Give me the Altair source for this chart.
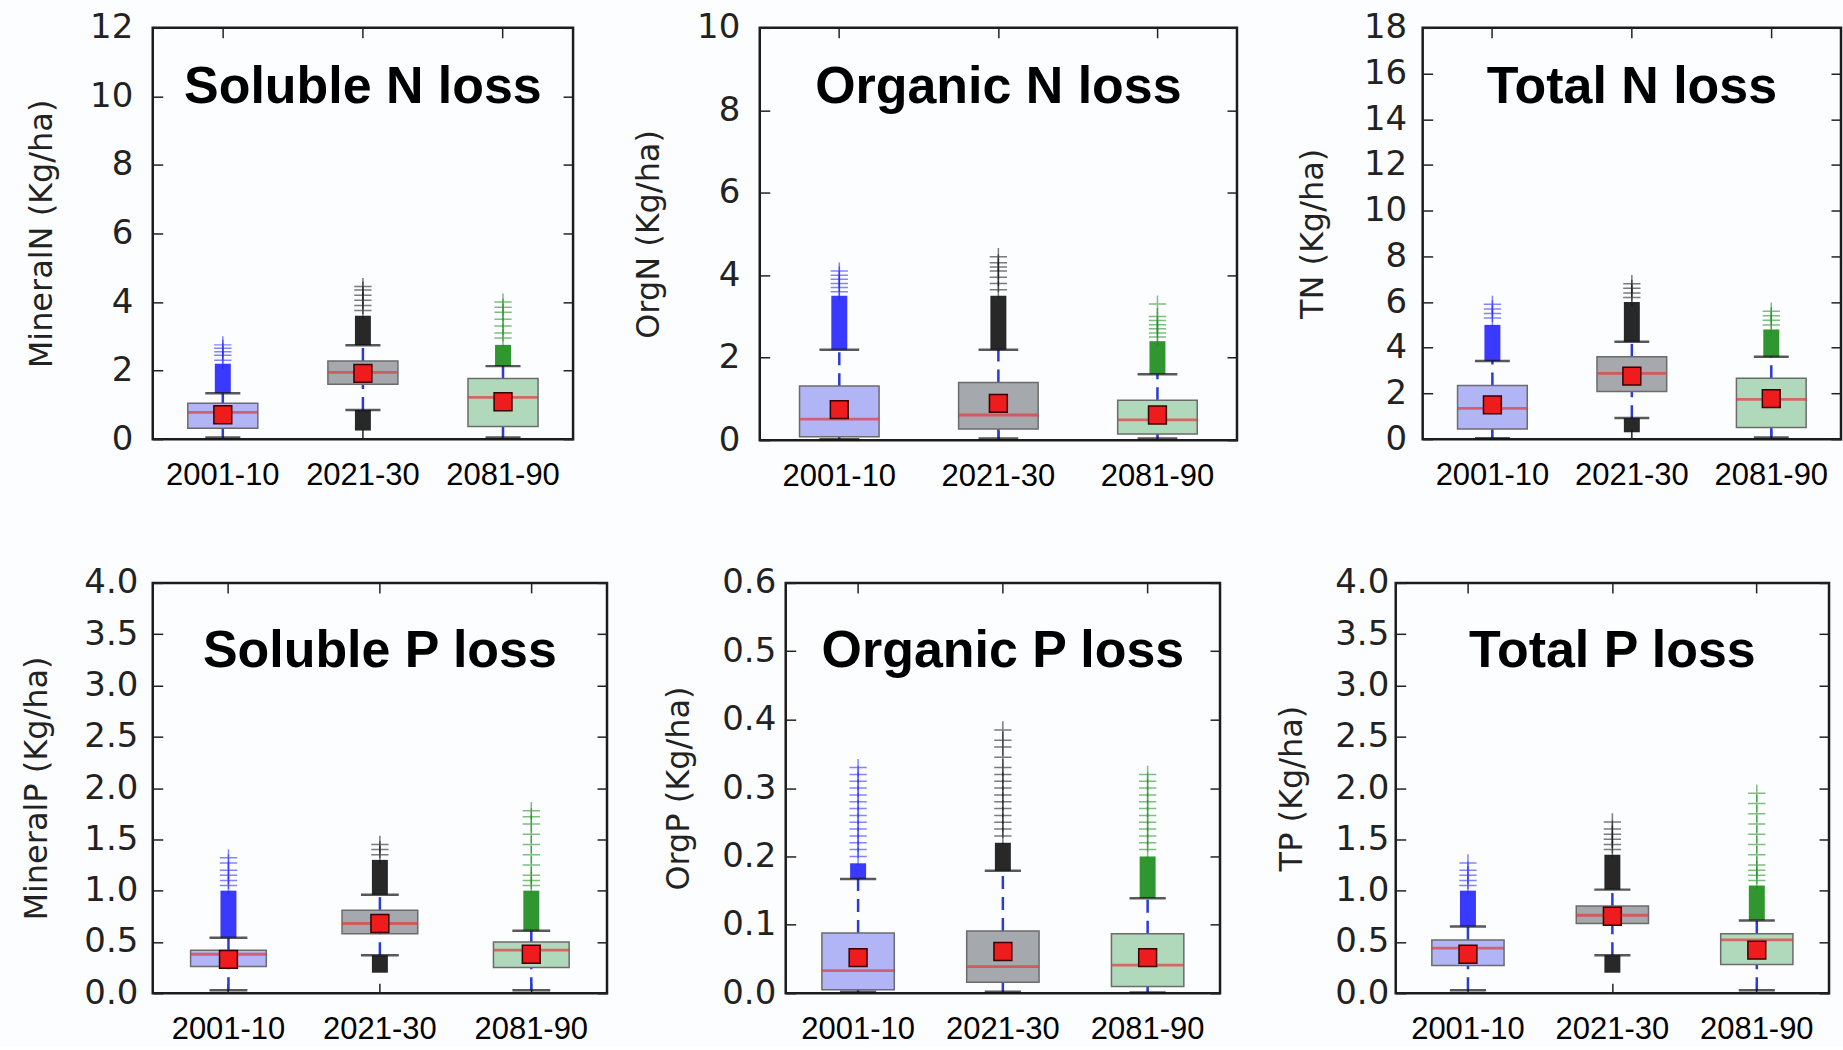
import altair as alt
import pandas as pd

PERIODS = ["2001-10", "2021-30", "2081-90"]
BOX_FILL = ["#b1b5f5", "#a5a8ad", "#b0d9bb"]
FLIER_COLOR = ["#2323ff", "#111111", "#1a8c1a"]

# Box statistics per period: whisker ends, quartiles, median, mean,
# the extent of the densely packed outliers and the scattered outliers above them.
soluble_n = dict(
    low=[0.05, 0.85, 0.05],
    q1=[0.32, 1.60, 0.37],
    median=[0.78, 1.95, 1.22],
    q3=[1.05, 2.28, 1.77],
    high=[1.34, 2.74, 2.13],
    mean=[0.71, 1.92, 1.09],
    flier_top=[2.20, 3.60, 2.75],
    flier_bottom=[None, 0.25, None],
    sparse=[[2.30, 2.45, 2.55, 2.65, 2.75],
            [3.75, 3.90, 4.05, 4.20, 4.35, 4.45],
            [2.95, 3.10, 3.30, 3.50, 3.70, 3.85, 4.00]],
)
organic_n = dict(
    low=[0.02, 0.04, 0.04],
    q1=[0.08, 0.27, 0.15],
    median=[0.51, 0.61, 0.49],
    q3=[1.31, 1.40, 0.97],
    high=[2.19, 2.19, 1.60],
    mean=[0.74, 0.89, 0.61],
    flier_top=[3.50, 3.50, 2.40],
    flier_bottom=[None, None, None],
    sparse=[[3.60, 3.70, 3.80, 3.90, 4.00, 4.10],
            [3.65, 3.80, 3.95, 4.10, 4.20, 4.30, 4.45],
            [2.50, 2.60, 2.70, 2.80, 2.90, 3.00, 3.30]],
)
total_n = dict(
    low=[0.04, 0.92, 0.07],
    q1=[0.44, 2.08, 0.51],
    median=[1.35, 2.88, 1.74],
    q3=[2.35, 3.60, 2.66],
    high=[3.42, 4.26, 3.60],
    mean=[1.50, 2.76, 1.77],
    flier_top=[5.00, 6.00, 4.80],
    flier_bottom=[None, 0.30, None],
    sparse=[[5.30, 5.50, 5.70, 5.90],
            [6.20, 6.40, 6.60, 6.80],
            [5.00, 5.20, 5.40, 5.60]],
)
soluble_p = dict(
    low=[0.03, 0.37, 0.03],
    q1=[0.26, 0.58, 0.25],
    median=[0.38, 0.68, 0.42],
    q3=[0.42, 0.81, 0.50],
    high=[0.54, 0.96, 0.61],
    mean=[0.33, 0.68, 0.38],
    flier_top=[1.00, 1.30, 1.00],
    flier_bottom=[None, 0.20, None],
    sparse=[[1.05, 1.10, 1.15, 1.20, 1.27, 1.32],
            [1.35, 1.40, 1.45],
            [1.05, 1.10, 1.15, 1.25, 1.35, 1.45, 1.55, 1.65, 1.72, 1.78]],
)
organic_p = dict(
    low=[0.002, 0.002, 0.001],
    q1=[0.005, 0.016, 0.010],
    median=[0.033, 0.039, 0.041],
    q3=[0.088, 0.091, 0.087],
    high=[0.167, 0.179, 0.139],
    mean=[0.052, 0.061, 0.052],
    flier_top=[0.190, 0.220, 0.200],
    flier_bottom=[None, None, None],
    sparse=[[0.20, 0.21, 0.22, 0.23, 0.24, 0.25, 0.26, 0.27, 0.28, 0.29, 0.30, 0.31, 0.32, 0.33],
            [0.23, 0.24, 0.25, 0.26, 0.27, 0.28, 0.29, 0.30, 0.31, 0.32, 0.33, 0.345, 0.36, 0.37, 0.385],
            [0.21, 0.22, 0.23, 0.24, 0.25, 0.26, 0.27, 0.28, 0.29, 0.30, 0.31, 0.32]],
)
total_p = dict(
    low=[0.03, 0.37, 0.03],
    q1=[0.27, 0.68, 0.28],
    median=[0.44, 0.76, 0.52],
    q3=[0.52, 0.85, 0.58],
    high=[0.65, 1.01, 0.71],
    mean=[0.38, 0.75, 0.42],
    flier_top=[1.00, 1.35, 1.05],
    flier_bottom=[None, 0.20, None],
    sparse=[[1.05, 1.10, 1.15, 1.20, 1.27],
            [1.40, 1.45, 1.50, 1.55, 1.60, 1.67],
            [1.10, 1.15, 1.20, 1.25, 1.35, 1.45, 1.55, 1.65, 1.75, 1.85, 1.95]],
)

TICKS_SOLUBLE_N = [0, 2, 4, 6, 8, 10, 12]
TICKS_ORGANIC_N = [0, 2, 4, 6, 8, 10]
TICKS_TOTAL_N = [0, 2, 4, 6, 8, 10, 12, 14, 16, 18]
TICKS_SOLUBLE_P = [0.0, 0.5, 1.0, 1.5, 2.0, 2.5, 3.0, 3.5, 4.0]
TICKS_ORGANIC_P = [0.0, 0.1, 0.2, 0.3, 0.4, 0.5, 0.6]
TICKS_TOTAL_P = [0.0, 0.5, 1.0, 1.5, 2.0, 2.5, 3.0, 3.5, 4.0]

PLUS = "M-1,0L1,0M0,-1L0,1"
WHISKER = "#2b3bd6"
INK = "#222222"


def panel(d, ticks, fmt, title, ylabel, width, height, label_pad, title_pad, title_dy):
    box_px = width / 6
    cap_px = width / 12

    summary = pd.DataFrame({
        "period": PERIODS,
        "low": d["low"], "q1": d["q1"], "median": d["median"], "q3": d["q3"],
        "high": d["high"], "mean": d["mean"],
        "flier_top": d["flier_top"], "flier_bottom": d["flier_bottom"],
        "fill": BOX_FILL, "flier": FLIER_COLOR,
    })
    lower = summary[summary["flier_bottom"].notna()]
    sparse = pd.DataFrame([
        {"period": p, "value": v, "flier": c}
        for p, vals, c in zip(PERIODS, d["sparse"], FLIER_COLOR) for v in vals
    ])

    xscale = alt.Scale(type="band", domain=PERIODS, paddingInner=0, paddingOuter=0)
    yscale = alt.Scale(domain=[ticks[0], ticks[-1]], nice=False, zero=False)

    def X(axis=None):
        return alt.X("period:N", scale=xscale, axis=axis, title=None)

    def Y(field, axis=None, title=None):
        return alt.Y(f"{field}:Q", scale=yscale, axis=axis, title=title)

    tick_style = dict(offset=-10, tickSize=10, tickWidth=1.5, tickColor=INK,
                      domain=False, grid=False)
    left = alt.Axis(orient="left", values=ticks, format=fmt, labelFont="DejaVu Sans",
                    labelFontSize=34, labelColor=INK, labelPadding=label_pad,
                    labelOverlap=False, titleFont="DejaVu Sans", titleFontSize=32,
                    titleFontWeight="normal", titleColor=INK, titlePadding=title_pad,
                    **tick_style)
    right = alt.Axis(orient="right", values=ticks, labels=False, title=None, **tick_style)
    bottom = alt.Axis(orient="bottom", labelAngle=0, labelFont="Liberation Sans",
                      labelFontSize=31, labelColor="#000000", labelPadding=21,
                      title=None, **tick_style)
    top = alt.Axis(orient="top", labels=False, title=None, **tick_style)

    base = alt.Chart(summary)
    flier_color = alt.Color("flier:N", scale=None)

    whisker_hi = base.mark_rule(color=WHISKER, strokeWidth=2.5, strokeDash=[13, 8]).encode(
        x=X(), y=Y("q3"), y2="high")
    whisker_lo = base.mark_rule(color=WHISKER, strokeWidth=2.5, strokeDash=[13, 8]).encode(
        x=X(), y=Y("low"), y2="q1")
    dense_hi = base.mark_bar(width=16, opacity=0.9).encode(
        x=X(), y=Y("high"), y2="flier_top", color=flier_color)
    dense_lo = alt.Chart(lower).mark_bar(width=16, opacity=0.9).encode(
        x=X(), y=Y("flier_bottom"), y2="low", color=flier_color)
    scattered = alt.Chart(sparse).mark_point(
        shape=PLUS, size=300, filled=False, strokeWidth=1.5, opacity=0.55).encode(
        x=X(), y=Y("value"), color=flier_color)
    cap_hi = base.mark_tick(color="#111111", size=cap_px, thickness=2.5).encode(
        x=X(), y=Y("high"))
    cap_lo = base.mark_tick(color="#111111", size=cap_px, thickness=2.5).encode(
        x=X(), y=Y("low"))
    box = base.mark_bar(width=alt.RelativeBandSize(0.5), stroke="#6b6b6b",
                        strokeWidth=1.5).encode(
        x=X(bottom), y=Y("q1", left, ylabel), y2="q3",
        fill=alt.Fill("fill:N", scale=None))
    median = base.mark_tick(color="#e23b3b", size=box_px, thickness=2.8).encode(
        x=X(), y=Y("median"))
    mean = base.mark_square(size=320, fill="#ee1c1c", stroke="#3a0000",
                            strokeWidth=1.5, opacity=1, filled=True).encode(
        x=X(top), y=Y("mean", right))

    return alt.layer(
        whisker_hi, whisker_lo, dense_hi, dense_lo, scattered,
        cap_hi, cap_lo, box, median, mean,
    ).resolve_axis(x="independent", y="independent").properties(
        width=width, height=height,
        title=alt.TitleParams(text=title, font="Liberation Sans", fontSize=52,
                              fontWeight="bold", color="#000000", anchor="middle",
                              frame="group", baseline="middle", offset=-62,
                              dy=title_dy),
    )


p1 = panel(soluble_n, TICKS_SOLUBLE_N, "d", "Soluble N loss", "MineralN (Kg/ha)",
           421, 412, 20, 31, 66)
p2 = panel(organic_n, TICKS_ORGANIC_N, "d", "Organic N loss", "OrgN (Kg/ha)",
           478, 413, 20, 31, 66)
p3 = panel(total_n, TICKS_TOTAL_N, "d", "Total N loss", "TN (Kg/ha)",
           419, 412, 16, 34, 66)
p4 = panel(soluble_p, TICKS_SOLUBLE_P, ".1f", "Soluble P loss", "MineralP (Kg/ha)",
           455, 411, 15, 30, 75)
p5 = panel(organic_p, TICKS_ORGANIC_P, ".1f", "Organic P loss", "OrgP (Kg/ha)",
           435, 411, 10, 26, 75)
p6 = panel(total_p, TICKS_TOTAL_P, ".1f", "Total P loss", "TP (Kg/ha)",
           434, 411, 7, 26, 75)

chart = alt.vconcat(
    alt.hconcat(p1, p2, p3, spacing=56),
    alt.hconcat(p4, p5, p6, spacing=52),
    spacing=71,
).properties(
    padding={"left": 19, "top": 8, "right": 0, "bottom": 0},
    background="#fcfdff",
).configure_view(
    stroke="#1c1c1c", strokeWidth=2.5,
)

chart.save("out.html", embed_options={"renderer": "svg", "actions": False})
